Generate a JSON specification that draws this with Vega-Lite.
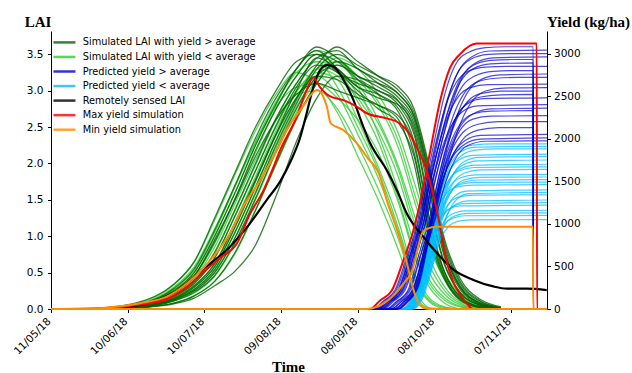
{
"$schema": "https://vega.github.io/schema/vega-lite/v6.json",
"width": 496, "height": 278,
"autosize": {"type": "none"},
"padding": {"left": 51, "top": 31, "right": 85, "bottom": 64},
"config": {
  "view": {"stroke": null},
  "font": "DejaVu Sans",
  "axis": {"grid": false, "domainColor": "black", "tickColor": "black", "labelColor": "black", "titleColor": "black", "labelFont": "DejaVu Sans", "labelFontSize": 10.5, "tickSize": 3.5, "domainWidth": 1, "tickWidth": 1, "titleFont": "Liberation Serif", "titleFontWeight": "bold", "titleFontSize": 15}
},
"datasets": {
"lightLAI": [
{"sim":"L1","day":20,"lai":0.01},{"sim":"L1","day":35,"lai":0.09},{"sim":"L1","day":48,"lai":0.33},{"sim":"L1","day":56,"lai":0.64},{"sim":"L1","day":64,"lai":1.22},{"sim":"L1","day":72,"lai":1.85},{"sim":"L1","day":80,"lai":2.45},{"sim":"L1","day":88,"lai":2.95},{"sim":"L1","day":96,"lai":3.25},{"sim":"L1","day":104,"lai":3.1},{"sim":"L1","day":112,"lai":2.7},{"sim":"L1","day":120,"lai":2.1},{"sim":"L1","day":128,"lai":1.5},{"sim":"L1","day":136,"lai":0.8},{"sim":"L1","day":142,"lai":0.2},{"sim":"L1","day":148,"lai":0},
{"sim":"L2","day":20,"lai":0.01},{"sim":"L2","day":35,"lai":0.07},{"sim":"L2","day":48,"lai":0.27},{"sim":"L2","day":56,"lai":0.53},{"sim":"L2","day":64,"lai":1.05},{"sim":"L2","day":72,"lai":1.68},{"sim":"L2","day":80,"lai":2.3},{"sim":"L2","day":88,"lai":2.85},{"sim":"L2","day":96,"lai":3.25},{"sim":"L2","day":104,"lai":3.4},{"sim":"L2","day":112,"lai":3.05},{"sim":"L2","day":120,"lai":2.5},{"sim":"L2","day":128,"lai":1.9},{"sim":"L2","day":136,"lai":1.1},{"sim":"L2","day":142,"lai":0.45},{"sim":"L2","day":148,"lai":0.12},{"sim":"L2","day":154,"lai":0.02},{"sim":"L2","day":160,"lai":0},
{"sim":"L3","day":20,"lai":0},{"sim":"L3","day":35,"lai":0.06},{"sim":"L3","day":48,"lai":0.22},{"sim":"L3","day":56,"lai":0.45},{"sim":"L3","day":64,"lai":0.9},{"sim":"L3","day":72,"lai":1.5},{"sim":"L3","day":80,"lai":2.15},{"sim":"L3","day":88,"lai":2.75},{"sim":"L3","day":96,"lai":3.2},{"sim":"L3","day":104,"lai":3.5},{"sim":"L3","day":112,"lai":3.3},{"sim":"L3","day":120,"lai":2.85},{"sim":"L3","day":128,"lai":2.3},{"sim":"L3","day":136,"lai":1.5},{"sim":"L3","day":142,"lai":0.8},{"sim":"L3","day":148,"lai":0.35},{"sim":"L3","day":154,"lai":0.12},{"sim":"L3","day":160,"lai":0.03},{"sim":"L3","day":168,"lai":0},
{"sim":"L4","day":20,"lai":0},{"sim":"L4","day":35,"lai":0.05},{"sim":"L4","day":48,"lai":0.18},{"sim":"L4","day":56,"lai":0.38},{"sim":"L4","day":64,"lai":0.76},{"sim":"L4","day":72,"lai":1.35},{"sim":"L4","day":80,"lai":1.98},{"sim":"L4","day":88,"lai":2.6},{"sim":"L4","day":96,"lai":3.1},{"sim":"L4","day":104,"lai":3.4},{"sim":"L4","day":112,"lai":3.3},{"sim":"L4","day":120,"lai":2.95},{"sim":"L4","day":128,"lai":2.55},{"sim":"L4","day":136,"lai":1.9},{"sim":"L4","day":142,"lai":1.2},{"sim":"L4","day":148,"lai":0.6},{"sim":"L4","day":154,"lai":0.25},{"sim":"L4","day":160,"lai":0.08},{"sim":"L4","day":168,"lai":0.01},{"sim":"L4","day":176,"lai":0},
{"sim":"L5","day":20,"lai":0},{"sim":"L5","day":35,"lai":0.04},{"sim":"L5","day":48,"lai":0.15},{"sim":"L5","day":56,"lai":0.32},{"sim":"L5","day":64,"lai":0.62},{"sim":"L5","day":72,"lai":1.2},{"sim":"L5","day":80,"lai":1.82},{"sim":"L5","day":88,"lai":2.45},{"sim":"L5","day":96,"lai":2.98},{"sim":"L5","day":104,"lai":3.3},{"sim":"L5","day":112,"lai":3.4},{"sim":"L5","day":120,"lai":3.15},{"sim":"L5","day":128,"lai":2.8},{"sim":"L5","day":136,"lai":2.2},{"sim":"L5","day":142,"lai":1.5},{"sim":"L5","day":148,"lai":0.85},{"sim":"L5","day":154,"lai":0.4},{"sim":"L5","day":160,"lai":0.15},{"sim":"L5","day":168,"lai":0.04},{"sim":"L5","day":176,"lai":0},
{"sim":"L6","day":20,"lai":0.01},{"sim":"L6","day":35,"lai":0.08},{"sim":"L6","day":48,"lai":0.3},{"sim":"L6","day":56,"lai":0.58},{"sim":"L6","day":64,"lai":1.1},{"sim":"L6","day":72,"lai":1.7},{"sim":"L6","day":80,"lai":2.3},{"sim":"L6","day":88,"lai":2.78},{"sim":"L6","day":96,"lai":3.05},{"sim":"L6","day":104,"lai":3.1},{"sim":"L6","day":112,"lai":2.9},{"sim":"L6","day":120,"lai":2.6},{"sim":"L6","day":128,"lai":2.15},{"sim":"L6","day":136,"lai":1.45},{"sim":"L6","day":142,"lai":0.75},{"sim":"L6","day":148,"lai":0.3},{"sim":"L6","day":154,"lai":0.08},{"sim":"L6","day":160,"lai":0},
{"sim":"L7","day":20,"lai":0},{"sim":"L7","day":35,"lai":0.03},{"sim":"L7","day":48,"lai":0.13},{"sim":"L7","day":56,"lai":0.27},{"sim":"L7","day":64,"lai":0.53},{"sim":"L7","day":72,"lai":1.05},{"sim":"L7","day":80,"lai":1.66},{"sim":"L7","day":88,"lai":2.3},{"sim":"L7","day":96,"lai":2.85},{"sim":"L7","day":104,"lai":3.25},{"sim":"L7","day":112,"lai":3.15},{"sim":"L7","day":120,"lai":2.6},{"sim":"L7","day":128,"lai":1.95},{"sim":"L7","day":136,"lai":1.2},{"sim":"L7","day":142,"lai":0.5},{"sim":"L7","day":148,"lai":0.15},{"sim":"L7","day":154,"lai":0.03},{"sim":"L7","day":160,"lai":0},
{"sim":"L8","day":20,"lai":0},{"sim":"L8","day":35,"lai":0.02},{"sim":"L8","day":48,"lai":0.11},{"sim":"L8","day":56,"lai":0.22},{"sim":"L8","day":64,"lai":0.45},{"sim":"L8","day":72,"lai":0.9},{"sim":"L8","day":80,"lai":1.5},{"sim":"L8","day":88,"lai":2.15},{"sim":"L8","day":96,"lai":2.7},{"sim":"L8","day":104,"lai":3.15},{"sim":"L8","day":112,"lai":3.35},{"sim":"L8","day":120,"lai":3.1},{"sim":"L8","day":128,"lai":2.6},{"sim":"L8","day":136,"lai":1.95},{"sim":"L8","day":142,"lai":1.3},{"sim":"L8","day":148,"lai":0.7},{"sim":"L8","day":154,"lai":0.3},{"sim":"L8","day":160,"lai":0.1},{"sim":"L8","day":168,"lai":0.02},{"sim":"L8","day":176,"lai":0},
{"sim":"L9","day":20,"lai":0},{"sim":"L9","day":35,"lai":0.06},{"sim":"L9","day":48,"lai":0.2},{"sim":"L9","day":56,"lai":0.42},{"sim":"L9","day":64,"lai":0.85},{"sim":"L9","day":72,"lai":1.45},{"sim":"L9","day":80,"lai":2.05},{"sim":"L9","day":88,"lai":2.6},{"sim":"L9","day":96,"lai":2.95},{"sim":"L9","day":104,"lai":3.0},{"sim":"L9","day":112,"lai":2.75},{"sim":"L9","day":120,"lai":2.25},{"sim":"L9","day":128,"lai":1.65},{"sim":"L9","day":136,"lai":0.95},{"sim":"L9","day":142,"lai":0.3},{"sim":"L9","day":148,"lai":0.02},{"sim":"L9","day":154,"lai":0},
{"sim":"L10","day":20,"lai":0},{"sim":"L10","day":35,"lai":0.02},{"sim":"L10","day":48,"lai":0.08},{"sim":"L10","day":56,"lai":0.18},{"sim":"L10","day":64,"lai":0.38},{"sim":"L10","day":72,"lai":0.76},{"sim":"L10","day":80,"lai":1.35},{"sim":"L10","day":88,"lai":1.98},{"sim":"L10","day":96,"lai":2.6},{"sim":"L10","day":104,"lai":3.1},{"sim":"L10","day":112,"lai":3.4},{"sim":"L10","day":120,"lai":3.05},{"sim":"L10","day":128,"lai":2.4},{"sim":"L10","day":136,"lai":1.6},{"sim":"L10","day":142,"lai":0.9},{"sim":"L10","day":148,"lai":0.4},{"sim":"L10","day":154,"lai":0.15},{"sim":"L10","day":160,"lai":0.04},{"sim":"L10","day":168,"lai":0},
{"sim":"L11","day":20,"lai":0.01},{"sim":"L11","day":35,"lai":0.07},{"sim":"L11","day":48,"lai":0.25},{"sim":"L11","day":56,"lai":0.5},{"sim":"L11","day":64,"lai":1.0},{"sim":"L11","day":72,"lai":1.6},{"sim":"L11","day":80,"lai":2.25},{"sim":"L11","day":88,"lai":2.8},{"sim":"L11","day":96,"lai":3.3},{"sim":"L11","day":104,"lai":3.55},{"sim":"L11","day":112,"lai":3.45},{"sim":"L11","day":120,"lai":3.2},{"sim":"L11","day":128,"lai":2.85},{"sim":"L11","day":136,"lai":2.3},{"sim":"L11","day":142,"lai":1.6},{"sim":"L11","day":148,"lai":0.95},{"sim":"L11","day":154,"lai":0.45},{"sim":"L11","day":160,"lai":0.18},{"sim":"L11","day":168,"lai":0.05},{"sim":"L11","day":176,"lai":0},
{"sim":"L12","day":20,"lai":0},{"sim":"L12","day":35,"lai":0.04},{"sim":"L12","day":48,"lai":0.14},{"sim":"L12","day":56,"lai":0.3},{"sim":"L12","day":64,"lai":0.58},{"sim":"L12","day":72,"lai":1.12},{"sim":"L12","day":80,"lai":1.75},{"sim":"L12","day":88,"lai":2.38},{"sim":"L12","day":96,"lai":2.9},{"sim":"L12","day":104,"lai":3.3},{"sim":"L12","day":112,"lai":3.2},{"sim":"L12","day":120,"lai":2.9},{"sim":"L12","day":128,"lai":2.45},{"sim":"L12","day":136,"lai":1.8},{"sim":"L12","day":142,"lai":1.1},{"sim":"L12","day":148,"lai":0.5},{"sim":"L12","day":154,"lai":0.2},{"sim":"L12","day":160,"lai":0.06},{"sim":"L12","day":168,"lai":0},
{"sim":"L13","day":20,"lai":0},{"sim":"L13","day":35,"lai":0.05},{"sim":"L13","day":48,"lai":0.17},{"sim":"L13","day":56,"lai":0.35},{"sim":"L13","day":64,"lai":0.7},{"sim":"L13","day":72,"lai":1.28},{"sim":"L13","day":80,"lai":1.9},{"sim":"L13","day":88,"lai":2.5},{"sim":"L13","day":96,"lai":3.0},{"sim":"L13","day":104,"lai":3.2},{"sim":"L13","day":112,"lai":2.95},{"sim":"L13","day":120,"lai":2.4},{"sim":"L13","day":128,"lai":1.8},{"sim":"L13","day":136,"lai":1.05},{"sim":"L13","day":142,"lai":0.4},{"sim":"L13","day":148,"lai":0.1},{"sim":"L13","day":154,"lai":0},
{"sim":"L14","day":20,"lai":0},{"sim":"L14","day":35,"lai":0.03},{"sim":"L14","day":48,"lai":0.12},{"sim":"L14","day":56,"lai":0.25},{"sim":"L14","day":64,"lai":0.5},{"sim":"L14","day":72,"lai":0.98},{"sim":"L14","day":80,"lai":1.58},{"sim":"L14","day":88,"lai":2.22},{"sim":"L14","day":96,"lai":2.78},{"sim":"L14","day":104,"lai":3.2},{"sim":"L14","day":112,"lai":3.45},{"sim":"L14","day":120,"lai":3.3},{"sim":"L14","day":128,"lai":2.95},{"sim":"L14","day":136,"lai":2.4},{"sim":"L14","day":142,"lai":1.75},{"sim":"L14","day":148,"lai":1.05},{"sim":"L14","day":154,"lai":0.5},{"sim":"L14","day":160,"lai":0.2},{"sim":"L14","day":168,"lai":0.06},{"sim":"L14","day":176,"lai":0.01}
],
"darkLAI": [
{"sim":"D1","day":20,"lai":0.01},{"sim":"D1","day":35,"lai":0.1},{"sim":"D1","day":48,"lai":0.34},{"sim":"D1","day":56,"lai":0.65},{"sim":"D1","day":64,"lai":1.25},{"sim":"D1","day":72,"lai":1.88},{"sim":"D1","day":80,"lai":2.5},{"sim":"D1","day":88,"lai":3.0},{"sim":"D1","day":96,"lai":3.4},{"sim":"D1","day":104,"lai":3.5},{"sim":"D1","day":112,"lai":3.25},{"sim":"D1","day":120,"lai":3.1},{"sim":"D1","day":128,"lai":3.0},{"sim":"D1","day":136,"lai":2.8},{"sim":"D1","day":142,"lai":2.4},{"sim":"D1","day":148,"lai":1.4},{"sim":"D1","day":154,"lai":0.6},{"sim":"D1","day":160,"lai":0.22},{"sim":"D1","day":168,"lai":0.05},{"sim":"D1","day":176,"lai":0},
{"sim":"D2","day":20,"lai":0.01},{"sim":"D2","day":35,"lai":0.07},{"sim":"D2","day":48,"lai":0.28},{"sim":"D2","day":56,"lai":0.55},{"sim":"D2","day":64,"lai":1.08},{"sim":"D2","day":72,"lai":1.7},{"sim":"D2","day":80,"lai":2.35},{"sim":"D2","day":88,"lai":2.9},{"sim":"D2","day":96,"lai":3.3},{"sim":"D2","day":104,"lai":3.6},{"sim":"D2","day":112,"lai":3.45},{"sim":"D2","day":120,"lai":3.2},{"sim":"D2","day":128,"lai":3.1},{"sim":"D2","day":136,"lai":2.95},{"sim":"D2","day":142,"lai":2.65},{"sim":"D2","day":148,"lai":1.85},{"sim":"D2","day":154,"lai":0.85},{"sim":"D2","day":160,"lai":0.35},{"sim":"D2","day":168,"lai":0.1},{"sim":"D2","day":176,"lai":0.02},
{"sim":"D3","day":20,"lai":0},{"sim":"D3","day":35,"lai":0.06},{"sim":"D3","day":48,"lai":0.22},{"sim":"D3","day":56,"lai":0.46},{"sim":"D3","day":64,"lai":0.92},{"sim":"D3","day":72,"lai":1.52},{"sim":"D3","day":80,"lai":2.18},{"sim":"D3","day":88,"lai":2.75},{"sim":"D3","day":96,"lai":3.2},{"sim":"D3","day":104,"lai":3.5},{"sim":"D3","day":112,"lai":3.4},{"sim":"D3","day":120,"lai":3.15},{"sim":"D3","day":128,"lai":2.95},{"sim":"D3","day":136,"lai":2.7},{"sim":"D3","day":142,"lai":2.15},{"sim":"D3","day":148,"lai":1.05},{"sim":"D3","day":154,"lai":0.42},{"sim":"D3","day":160,"lai":0.13},{"sim":"D3","day":168,"lai":0.02},{"sim":"D3","day":176,"lai":0},
{"sim":"D4","day":20,"lai":0},{"sim":"D4","day":35,"lai":0.05},{"sim":"D4","day":48,"lai":0.18},{"sim":"D4","day":56,"lai":0.38},{"sim":"D4","day":64,"lai":0.78},{"sim":"D4","day":72,"lai":1.37},{"sim":"D4","day":80,"lai":2.0},{"sim":"D4","day":88,"lai":2.62},{"sim":"D4","day":96,"lai":3.1},{"sim":"D4","day":104,"lai":3.45},{"sim":"D4","day":112,"lai":3.55},{"sim":"D4","day":120,"lai":3.3},{"sim":"D4","day":128,"lai":3.15},{"sim":"D4","day":136,"lai":2.95},{"sim":"D4","day":142,"lai":2.65},{"sim":"D4","day":148,"lai":1.8},{"sim":"D4","day":154,"lai":0.8},{"sim":"D4","day":160,"lai":0.32},{"sim":"D4","day":168,"lai":0.08},{"sim":"D4","day":176,"lai":0.01},
{"sim":"D5","day":20,"lai":0},{"sim":"D5","day":35,"lai":0.04},{"sim":"D5","day":48,"lai":0.15},{"sim":"D5","day":56,"lai":0.32},{"sim":"D5","day":64,"lai":0.62},{"sim":"D5","day":72,"lai":1.18},{"sim":"D5","day":80,"lai":1.78},{"sim":"D5","day":88,"lai":2.4},{"sim":"D5","day":96,"lai":2.9},{"sim":"D5","day":104,"lai":3.2},{"sim":"D5","day":112,"lai":3.15},{"sim":"D5","day":120,"lai":2.95},{"sim":"D5","day":128,"lai":2.8},{"sim":"D5","day":136,"lai":2.6},{"sim":"D5","day":142,"lai":2.0},{"sim":"D5","day":148,"lai":0.95},{"sim":"D5","day":154,"lai":0.4},{"sim":"D5","day":160,"lai":0.12},{"sim":"D5","day":168,"lai":0.02},{"sim":"D5","day":176,"lai":0},
{"sim":"D6","day":20,"lai":0},{"sim":"D6","day":35,"lai":0.03},{"sim":"D6","day":48,"lai":0.13},{"sim":"D6","day":56,"lai":0.27},{"sim":"D6","day":64,"lai":0.54},{"sim":"D6","day":72,"lai":1.06},{"sim":"D6","day":80,"lai":1.68},{"sim":"D6","day":88,"lai":2.32},{"sim":"D6","day":96,"lai":2.88},{"sim":"D6","day":104,"lai":3.35},{"sim":"D6","day":112,"lai":3.6},{"sim":"D6","day":120,"lai":3.4},{"sim":"D6","day":128,"lai":3.2},{"sim":"D6","day":136,"lai":3.0},{"sim":"D6","day":142,"lai":2.7},{"sim":"D6","day":148,"lai":1.9},{"sim":"D6","day":154,"lai":0.9},{"sim":"D6","day":160,"lai":0.38},{"sim":"D6","day":168,"lai":0.11},{"sim":"D6","day":176,"lai":0.02},
{"sim":"D7","day":20,"lai":0},{"sim":"D7","day":35,"lai":0.02},{"sim":"D7","day":48,"lai":0.11},{"sim":"D7","day":56,"lai":0.23},{"sim":"D7","day":64,"lai":0.46},{"sim":"D7","day":72,"lai":0.92},{"sim":"D7","day":80,"lai":1.52},{"sim":"D7","day":88,"lai":2.17},{"sim":"D7","day":96,"lai":2.75},{"sim":"D7","day":104,"lai":3.2},{"sim":"D7","day":112,"lai":3.35},{"sim":"D7","day":120,"lai":3.2},{"sim":"D7","day":128,"lai":3.05},{"sim":"D7","day":136,"lai":2.85},{"sim":"D7","day":142,"lai":2.45},{"sim":"D7","day":148,"lai":1.45},{"sim":"D7","day":154,"lai":0.62},{"sim":"D7","day":160,"lai":0.23},{"sim":"D7","day":168,"lai":0.05},{"sim":"D7","day":176,"lai":0},
{"sim":"D8","day":20,"lai":0},{"sim":"D8","day":35,"lai":0.02},{"sim":"D8","day":48,"lai":0.08},{"sim":"D8","day":56,"lai":0.18},{"sim":"D8","day":64,"lai":0.38},{"sim":"D8","day":72,"lai":0.78},{"sim":"D8","day":80,"lai":1.36},{"sim":"D8","day":88,"lai":2.0},{"sim":"D8","day":96,"lai":2.62},{"sim":"D8","day":104,"lai":3.1},{"sim":"D8","day":112,"lai":3.4},{"sim":"D8","day":120,"lai":3.3},{"sim":"D8","day":128,"lai":3.1},{"sim":"D8","day":136,"lai":2.9},{"sim":"D8","day":142,"lai":2.6},{"sim":"D8","day":148,"lai":1.75},{"sim":"D8","day":154,"lai":0.78},{"sim":"D8","day":160,"lai":0.3},{"sim":"D8","day":168,"lai":0.08},{"sim":"D8","day":176,"lai":0.01},
{"sim":"D9","day":20,"lai":0},{"sim":"D9","day":35,"lai":0.05},{"sim":"D9","day":48,"lai":0.23},{"sim":"D9","day":56,"lai":0.45},{"sim":"D9","day":64,"lai":0.95},{"sim":"D9","day":72,"lai":1.5},{"sim":"D9","day":80,"lai":2.1},{"sim":"D9","day":88,"lai":2.6},{"sim":"D9","day":96,"lai":2.95},{"sim":"D9","day":104,"lai":3.1},{"sim":"D9","day":112,"lai":3.0},{"sim":"D9","day":120,"lai":2.9},{"sim":"D9","day":128,"lai":2.8},{"sim":"D9","day":136,"lai":2.65},{"sim":"D9","day":142,"lai":2.25},{"sim":"D9","day":148,"lai":1.2},{"sim":"D9","day":154,"lai":0.5},{"sim":"D9","day":160,"lai":0.16},{"sim":"D9","day":168,"lai":0.03},{"sim":"D9","day":176,"lai":0},
{"sim":"D10","day":20,"lai":0},{"sim":"D10","day":35,"lai":0.04},{"sim":"D10","day":48,"lai":0.14},{"sim":"D10","day":56,"lai":0.3},{"sim":"D10","day":64,"lai":0.58},{"sim":"D10","day":72,"lai":1.13},{"sim":"D10","day":80,"lai":1.76},{"sim":"D10","day":88,"lai":2.4},{"sim":"D10","day":96,"lai":3.0},{"sim":"D10","day":104,"lai":3.45},{"sim":"D10","day":112,"lai":3.3},{"sim":"D10","day":120,"lai":3.05},{"sim":"D10","day":128,"lai":2.9},{"sim":"D10","day":136,"lai":2.8},{"sim":"D10","day":142,"lai":2.5},{"sim":"D10","day":148,"lai":1.6},{"sim":"D10","day":154,"lai":0.7},{"sim":"D10","day":160,"lai":0.27},{"sim":"D10","day":168,"lai":0.06},{"sim":"D10","day":176,"lai":0},
{"sim":"D11","day":20,"lai":0.01},{"sim":"D11","day":35,"lai":0.07},{"sim":"D11","day":48,"lai":0.25},{"sim":"D11","day":56,"lai":0.5},{"sim":"D11","day":64,"lai":1.0},{"sim":"D11","day":72,"lai":1.6},{"sim":"D11","day":80,"lai":2.25},{"sim":"D11","day":88,"lai":2.82},{"sim":"D11","day":96,"lai":3.3},{"sim":"D11","day":104,"lai":3.55},{"sim":"D11","day":112,"lai":3.3},{"sim":"D11","day":120,"lai":3.05},{"sim":"D11","day":128,"lai":2.95},{"sim":"D11","day":136,"lai":2.75},{"sim":"D11","day":142,"lai":2.3},{"sim":"D11","day":148,"lai":1.25},{"sim":"D11","day":154,"lai":0.5},{"sim":"D11","day":160,"lai":0.17},{"sim":"D11","day":168,"lai":0.03},{"sim":"D11","day":176,"lai":0},
{"sim":"D12","day":20,"lai":0},{"sim":"D12","day":35,"lai":0.02},{"sim":"D12","day":48,"lai":0.07},{"sim":"D12","day":56,"lai":0.15},{"sim":"D12","day":64,"lai":0.32},{"sim":"D12","day":72,"lai":0.52},{"sim":"D12","day":80,"lai":0.88},{"sim":"D12","day":88,"lai":1.55},{"sim":"D12","day":96,"lai":2.3},{"sim":"D12","day":104,"lai":2.9},{"sim":"D12","day":112,"lai":3.2},{"sim":"D12","day":120,"lai":3.15},{"sim":"D12","day":128,"lai":3.0},{"sim":"D12","day":136,"lai":2.85},{"sim":"D12","day":142,"lai":2.55},{"sim":"D12","day":148,"lai":1.7},{"sim":"D12","day":154,"lai":0.75},{"sim":"D12","day":160,"lai":0.3},{"sim":"D12","day":168,"lai":0.07},{"sim":"D12","day":176,"lai":0.01},
{"sim":"D13","day":20,"lai":0},{"sim":"D13","day":35,"lai":0.05},{"sim":"D13","day":48,"lai":0.17},{"sim":"D13","day":56,"lai":0.35},{"sim":"D13","day":64,"lai":0.7},{"sim":"D13","day":72,"lai":1.28},{"sim":"D13","day":80,"lai":1.9},{"sim":"D13","day":88,"lai":2.52},{"sim":"D13","day":96,"lai":3.05},{"sim":"D13","day":104,"lai":3.35},{"sim":"D13","day":112,"lai":3.25},{"sim":"D13","day":120,"lai":3.0},{"sim":"D13","day":128,"lai":2.75},{"sim":"D13","day":136,"lai":2.55},{"sim":"D13","day":142,"lai":2.1},{"sim":"D13","day":148,"lai":1.1},{"sim":"D13","day":154,"lai":0.45},{"sim":"D13","day":160,"lai":0.14},{"sim":"D13","day":168,"lai":0.03},{"sim":"D13","day":176,"lai":0},
{"sim":"D14","day":20,"lai":0},{"sim":"D14","day":35,"lai":0.03},{"sim":"D14","day":48,"lai":0.12},{"sim":"D14","day":56,"lai":0.25},{"sim":"D14","day":64,"lai":0.5},{"sim":"D14","day":72,"lai":0.98},{"sim":"D14","day":80,"lai":1.6},{"sim":"D14","day":88,"lai":2.25},{"sim":"D14","day":96,"lai":2.82},{"sim":"D14","day":104,"lai":3.3},{"sim":"D14","day":112,"lai":3.5},{"sim":"D14","day":120,"lai":3.35},{"sim":"D14","day":128,"lai":3.2},{"sim":"D14","day":136,"lai":3.05},{"sim":"D14","day":142,"lai":2.75},{"sim":"D14","day":148,"lai":1.95},{"sim":"D14","day":154,"lai":0.95},{"sim":"D14","day":160,"lai":0.42},{"sim":"D14","day":168,"lai":0.13},{"sim":"D14","day":176,"lai":0.03}
],
"cyanYield": [
{"sim":"C1","day":0,"yield":0},{"sim":"C1","day":137,"yield":0},{"sim":"C1","day":141,"yield":120},{"sim":"C1","day":144.5,"yield":420},{"sim":"C1","day":148,"yield":900},{"sim":"C1","day":151.5,"yield":1380},{"sim":"C1","day":155,"yield":1700},{"sim":"C1","day":159,"yield":1860},{"sim":"C1","day":165,"yield":1925},{"sim":"C1","day":173,"yield":1940},{"sim":"C1","day":194,"yield":1940},
{"sim":"C2","day":0,"yield":0},{"sim":"C2","day":138.5,"yield":0},{"sim":"C2","day":142.5,"yield":120},{"sim":"C2","day":146,"yield":420},{"sim":"C2","day":149.5,"yield":900},{"sim":"C2","day":153,"yield":1360},{"sim":"C2","day":156.5,"yield":1650},{"sim":"C2","day":160.5,"yield":1800},{"sim":"C2","day":166,"yield":1865},{"sim":"C2","day":174,"yield":1880},{"sim":"C2","day":194,"yield":1880},
{"sim":"C3","day":0,"yield":0},{"sim":"C3","day":137.5,"yield":0},{"sim":"C3","day":141.5,"yield":120},{"sim":"C3","day":145,"yield":430},{"sim":"C3","day":148.5,"yield":900},{"sim":"C3","day":152,"yield":1340},{"sim":"C3","day":155.5,"yield":1610},{"sim":"C3","day":159.5,"yield":1750},{"sim":"C3","day":165,"yield":1805},{"sim":"C3","day":194,"yield":1820},
{"sim":"C4","day":0,"yield":0},{"sim":"C4","day":139,"yield":0},{"sim":"C4","day":143,"yield":130},{"sim":"C4","day":146.5,"yield":450},{"sim":"C4","day":150,"yield":920},{"sim":"C4","day":153.5,"yield":1330},{"sim":"C4","day":157,"yield":1570},{"sim":"C4","day":161,"yield":1690},{"sim":"C4","day":167,"yield":1740},{"sim":"C4","day":194,"yield":1750},
{"sim":"C5","day":0,"yield":0},{"sim":"C5","day":138,"yield":0},{"sim":"C5","day":142,"yield":125},{"sim":"C5","day":145.5,"yield":440},{"sim":"C5","day":149,"yield":900},{"sim":"C5","day":152.5,"yield":1290},{"sim":"C5","day":156,"yield":1530},{"sim":"C5","day":160,"yield":1645},{"sim":"C5","day":166,"yield":1690},{"sim":"C5","day":194,"yield":1700},
{"sim":"C6","day":0,"yield":0},{"sim":"C6","day":140,"yield":0},{"sim":"C6","day":144,"yield":130},{"sim":"C6","day":147.5,"yield":460},{"sim":"C6","day":151,"yield":930},{"sim":"C6","day":154.5,"yield":1300},{"sim":"C6","day":158,"yield":1510},{"sim":"C6","day":162,"yield":1600},{"sim":"C6","day":168,"yield":1635},{"sim":"C6","day":194,"yield":1640},
{"sim":"C7","day":0,"yield":0},{"sim":"C7","day":138.5,"yield":0},{"sim":"C7","day":142.5,"yield":125},{"sim":"C7","day":146,"yield":440},{"sim":"C7","day":149.5,"yield":880},{"sim":"C7","day":153,"yield":1250},{"sim":"C7","day":156.5,"yield":1460},{"sim":"C7","day":160.5,"yield":1545},{"sim":"C7","day":166,"yield":1575},{"sim":"C7","day":194,"yield":1580},
{"sim":"C8","day":0,"yield":0},{"sim":"C8","day":139.5,"yield":0},{"sim":"C8","day":143.5,"yield":130},{"sim":"C8","day":147,"yield":450},{"sim":"C8","day":150.5,"yield":900},{"sim":"C8","day":154,"yield":1240},{"sim":"C8","day":157.5,"yield":1420},{"sim":"C8","day":161.5,"yield":1490},{"sim":"C8","day":167,"yield":1515},{"sim":"C8","day":194,"yield":1520},
{"sim":"C9","day":0,"yield":0},{"sim":"C9","day":137,"yield":0},{"sim":"C9","day":141,"yield":120},{"sim":"C9","day":144.5,"yield":420},{"sim":"C9","day":148,"yield":860},{"sim":"C9","day":151.5,"yield":1200},{"sim":"C9","day":155,"yield":1370},{"sim":"C9","day":159,"yield":1435},{"sim":"C9","day":165,"yield":1455},{"sim":"C9","day":194,"yield":1460},
{"sim":"C10","day":0,"yield":0},{"sim":"C10","day":140.5,"yield":0},{"sim":"C10","day":144.5,"yield":130},{"sim":"C10","day":148,"yield":460},{"sim":"C10","day":151.5,"yield":900},{"sim":"C10","day":155,"yield":1200},{"sim":"C10","day":158.5,"yield":1340},{"sim":"C10","day":162.5,"yield":1385},{"sim":"C10","day":194,"yield":1400},
{"sim":"C11","day":0,"yield":0},{"sim":"C11","day":139,"yield":0},{"sim":"C11","day":143,"yield":125},{"sim":"C11","day":146.5,"yield":440},{"sim":"C11","day":150,"yield":860},{"sim":"C11","day":153.5,"yield":1140},{"sim":"C11","day":157,"yield":1280},{"sim":"C11","day":161,"yield":1325},{"sim":"C11","day":167,"yield":1338},{"sim":"C11","day":194,"yield":1340},
{"sim":"C12","day":0,"yield":0},{"sim":"C12","day":141,"yield":0},{"sim":"C12","day":145,"yield":135},{"sim":"C12","day":148.5,"yield":470},{"sim":"C12","day":152,"yield":890},{"sim":"C12","day":155.5,"yield":1140},{"sim":"C12","day":159,"yield":1240},{"sim":"C12","day":163,"yield":1270},{"sim":"C12","day":194,"yield":1280},
{"sim":"C13","day":0,"yield":0},{"sim":"C13","day":138,"yield":0},{"sim":"C13","day":142,"yield":120},{"sim":"C13","day":145.5,"yield":420},{"sim":"C13","day":149,"yield":820},{"sim":"C13","day":152.5,"yield":1080},{"sim":"C13","day":156,"yield":1180},{"sim":"C13","day":160,"yield":1210},{"sim":"C13","day":194,"yield":1220},
{"sim":"C14","day":0,"yield":0},{"sim":"C14","day":140,"yield":0},{"sim":"C14","day":144,"yield":130},{"sim":"C14","day":147.5,"yield":450},{"sim":"C14","day":151,"yield":840},{"sim":"C14","day":154.5,"yield":1060},{"sim":"C14","day":158,"yield":1130},{"sim":"C14","day":162,"yield":1152},{"sim":"C14","day":194,"yield":1160},
{"sim":"C15","day":0,"yield":0},{"sim":"C15","day":139.5,"yield":0},{"sim":"C15","day":143.5,"yield":125},{"sim":"C15","day":147,"yield":440},{"sim":"C15","day":150.5,"yield":800},{"sim":"C15","day":154,"yield":1000},{"sim":"C15","day":157.5,"yield":1070},{"sim":"C15","day":162,"yield":1095},{"sim":"C15","day":194,"yield":1100},
{"sim":"C16","day":0,"yield":0},{"sim":"C16","day":141,"yield":0},{"sim":"C16","day":145,"yield":130},{"sim":"C16","day":148.5,"yield":450},{"sim":"C16","day":152,"yield":800},{"sim":"C16","day":155.5,"yield":970},{"sim":"C16","day":159,"yield":1030},{"sim":"C16","day":164,"yield":1047},{"sim":"C16","day":194,"yield":1050},
{"sim":"C17","day":0,"yield":0},{"sim":"C17","day":138,"yield":0},{"sim":"C17","day":142,"yield":120},{"sim":"C17","day":145.5,"yield":420},{"sim":"C17","day":149,"yield":900},{"sim":"C17","day":152.5,"yield":1370},{"sim":"C17","day":156,"yield":1680},{"sim":"C17","day":160,"yield":1840},{"sim":"C17","day":166,"yield":1900},{"sim":"C17","day":194,"yield":1910},
{"sim":"C18","day":0,"yield":0},{"sim":"C18","day":139.5,"yield":0},{"sim":"C18","day":143.5,"yield":125},{"sim":"C18","day":147,"yield":440},{"sim":"C18","day":150.5,"yield":910},{"sim":"C18","day":154,"yield":1330},{"sim":"C18","day":157.5,"yield":1590},{"sim":"C18","day":161.5,"yield":1730},{"sim":"C18","day":167.5,"yield":1780},{"sim":"C18","day":194,"yield":1790},
{"sim":"C19","day":0,"yield":0},{"sim":"C19","day":137.5,"yield":0},{"sim":"C19","day":141.5,"yield":120},{"sim":"C19","day":145,"yield":430},{"sim":"C19","day":148.5,"yield":890},{"sim":"C19","day":152,"yield":1280},{"sim":"C19","day":155.5,"yield":1510},{"sim":"C19","day":159.5,"yield":1620},{"sim":"C19","day":165.5,"yield":1662},{"sim":"C19","day":194,"yield":1670},
{"sim":"C20","day":0,"yield":0},{"sim":"C20","day":140,"yield":0},{"sim":"C20","day":144,"yield":130},{"sim":"C20","day":147.5,"yield":450},{"sim":"C20","day":151,"yield":900},{"sim":"C20","day":154.5,"yield":1250},{"sim":"C20","day":158,"yield":1440},{"sim":"C20","day":162,"yield":1520},{"sim":"C20","day":168,"yield":1546},{"sim":"C20","day":194,"yield":1550},
{"sim":"C21","day":0,"yield":0},{"sim":"C21","day":138.5,"yield":0},{"sim":"C21","day":142.5,"yield":125},{"sim":"C21","day":146,"yield":440},{"sim":"C21","day":149.5,"yield":870},{"sim":"C21","day":153,"yield":1200},{"sim":"C21","day":156.5,"yield":1390},{"sim":"C21","day":160.5,"yield":1465},{"sim":"C21","day":166,"yield":1486},{"sim":"C21","day":194,"yield":1490},
{"sim":"C22","day":0,"yield":0},{"sim":"C22","day":141.5,"yield":0},{"sim":"C22","day":145.5,"yield":135},{"sim":"C22","day":149,"yield":470},{"sim":"C22","day":152.5,"yield":880},{"sim":"C22","day":156,"yield":1170},{"sim":"C22","day":159.5,"yield":1310},{"sim":"C22","day":163.5,"yield":1355},{"sim":"C22","day":194,"yield":1370},
{"sim":"C23","day":0,"yield":0},{"sim":"C23","day":139,"yield":0},{"sim":"C23","day":143,"yield":125},{"sim":"C23","day":146.5,"yield":440},{"sim":"C23","day":150,"yield":840},{"sim":"C23","day":153.5,"yield":1100},{"sim":"C23","day":157,"yield":1200},{"sim":"C23","day":161,"yield":1238},{"sim":"C23","day":194,"yield":1250},
{"sim":"C24","day":0,"yield":0},{"sim":"C24","day":140.5,"yield":0},{"sim":"C24","day":144.5,"yield":130},{"sim":"C24","day":148,"yield":450},{"sim":"C24","day":151.5,"yield":820},{"sim":"C24","day":155,"yield":1030},{"sim":"C24","day":158.5,"yield":1100},{"sim":"C24","day":163,"yield":1124},{"sim":"C24","day":194,"yield":1130}
],
"blueYield": [
{"sim":"B1","day":0,"yield":0},{"sim":"B1","day":126,"yield":0},{"sim":"B1","day":130,"yield":95},{"sim":"B1","day":134.5,"yield":220},{"sim":"B1","day":139,"yield":600},{"sim":"B1","day":143,"yield":980},{"sim":"B1","day":146,"yield":1400},{"sim":"B1","day":150,"yield":1980},{"sim":"B1","day":154,"yield":2520},{"sim":"B1","day":158,"yield":2860},{"sim":"B1","day":163,"yield":3010},{"sim":"B1","day":170,"yield":3070},{"sim":"B1","day":178,"yield":3080},{"sim":"B1","day":188.6,"yield":3080},{"sim":"B1","day":188.7,"yield":0},{"sim":"B1","day":194,"yield":0},
{"sim":"B2","day":0,"yield":0},{"sim":"B2","day":127,"yield":0},{"sim":"B2","day":131,"yield":90},{"sim":"B2","day":135.5,"yield":215},{"sim":"B2","day":140,"yield":600},{"sim":"B2","day":144,"yield":1000},{"sim":"B2","day":147,"yield":1420},{"sim":"B2","day":151,"yield":1980},{"sim":"B2","day":155,"yield":2460},{"sim":"B2","day":159,"yield":2770},{"sim":"B2","day":164,"yield":2930},{"sim":"B2","day":171,"yield":2990},{"sim":"B2","day":180,"yield":3000},{"sim":"B2","day":194,"yield":3000},
{"sim":"B3","day":0,"yield":0},{"sim":"B3","day":128,"yield":0},{"sim":"B3","day":132,"yield":90},{"sim":"B3","day":136.5,"yield":215},{"sim":"B3","day":141,"yield":620},{"sim":"B3","day":145,"yield":1020},{"sim":"B3","day":148,"yield":1450},{"sim":"B3","day":152,"yield":1970},{"sim":"B3","day":156,"yield":2400},{"sim":"B3","day":160,"yield":2700},{"sim":"B3","day":165,"yield":2860},{"sim":"B3","day":172,"yield":2920},{"sim":"B3","day":180,"yield":2930},{"sim":"B3","day":188.6,"yield":2930},{"sim":"B3","day":188.7,"yield":0},{"sim":"B3","day":194,"yield":0},
{"sim":"B4","day":0,"yield":0},{"sim":"B4","day":126.5,"yield":0},{"sim":"B4","day":130.5,"yield":95},{"sim":"B4","day":135,"yield":220},{"sim":"B4","day":139.5,"yield":600},{"sim":"B4","day":143.5,"yield":990},{"sim":"B4","day":146.5,"yield":1400},{"sim":"B4","day":150.5,"yield":1950},{"sim":"B4","day":154.5,"yield":2400},{"sim":"B4","day":158.5,"yield":2660},{"sim":"B4","day":163,"yield":2790},{"sim":"B4","day":170,"yield":2840},{"sim":"B4","day":178,"yield":2850},{"sim":"B4","day":194,"yield":2850},
{"sim":"B5","day":0,"yield":0},{"sim":"B5","day":129,"yield":0},{"sim":"B5","day":133,"yield":90},{"sim":"B5","day":137.5,"yield":220},{"sim":"B5","day":142,"yield":640},{"sim":"B5","day":146,"yield":1050},{"sim":"B5","day":149,"yield":1480},{"sim":"B5","day":153,"yield":1980},{"sim":"B5","day":157,"yield":2380},{"sim":"B5","day":161,"yield":2620},{"sim":"B5","day":166,"yield":2740},{"sim":"B5","day":173,"yield":2790},{"sim":"B5","day":181,"yield":2800},{"sim":"B5","day":188.6,"yield":2800},{"sim":"B5","day":188.7,"yield":0},{"sim":"B5","day":194,"yield":0},
{"sim":"B6","day":0,"yield":0},{"sim":"B6","day":130,"yield":0},{"sim":"B6","day":134,"yield":90},{"sim":"B6","day":138.5,"yield":220},{"sim":"B6","day":143,"yield":650},{"sim":"B6","day":147,"yield":1060},{"sim":"B6","day":150,"yield":1470},{"sim":"B6","day":154,"yield":1950},{"sim":"B6","day":158,"yield":2320},{"sim":"B6","day":162,"yield":2550},{"sim":"B6","day":167,"yield":2670},{"sim":"B6","day":174,"yield":2710},{"sim":"B6","day":182,"yield":2720},{"sim":"B6","day":194,"yield":2720},
{"sim":"B7","day":0,"yield":0},{"sim":"B7","day":127.5,"yield":0},{"sim":"B7","day":131.5,"yield":90},{"sim":"B7","day":136,"yield":220},{"sim":"B7","day":140.5,"yield":620},{"sim":"B7","day":144.5,"yield":1000},{"sim":"B7","day":147.5,"yield":1420},{"sim":"B7","day":151.5,"yield":1900},{"sim":"B7","day":155.5,"yield":2280},{"sim":"B7","day":159.5,"yield":2500},{"sim":"B7","day":164,"yield":2600},{"sim":"B7","day":171,"yield":2635},{"sim":"B7","day":194,"yield":2640},
{"sim":"B8","day":0,"yield":0},{"sim":"B8","day":131,"yield":0},{"sim":"B8","day":135,"yield":85},{"sim":"B8","day":139.5,"yield":215},{"sim":"B8","day":144,"yield":650},{"sim":"B8","day":148,"yield":1060},{"sim":"B8","day":151,"yield":1470},{"sim":"B8","day":155,"yield":1920},{"sim":"B8","day":159,"yield":2250},{"sim":"B8","day":163,"yield":2440},{"sim":"B8","day":168,"yield":2530},{"sim":"B8","day":176,"yield":2560},{"sim":"B8","day":188.6,"yield":2560},{"sim":"B8","day":188.7,"yield":0},{"sim":"B8","day":194,"yield":0},
{"sim":"B9","day":0,"yield":0},{"sim":"B9","day":134.5,"yield":0},{"sim":"B9","day":138.5,"yield":90},{"sim":"B9","day":142.5,"yield":260},{"sim":"B9","day":146,"yield":700},{"sim":"B9","day":149,"yield":1150},{"sim":"B9","day":152,"yield":1600},{"sim":"B9","day":155.5,"yield":2000},{"sim":"B9","day":159,"yield":2280},{"sim":"B9","day":163,"yield":2410},{"sim":"B9","day":169,"yield":2470},{"sim":"B9","day":194,"yield":2480},
{"sim":"B10","day":0,"yield":0},{"sim":"B10","day":128.5,"yield":0},{"sim":"B10","day":132.5,"yield":90},{"sim":"B10","day":137,"yield":220},{"sim":"B10","day":141.5,"yield":630},{"sim":"B10","day":145.5,"yield":1020},{"sim":"B10","day":148.5,"yield":1430},{"sim":"B10","day":152.5,"yield":1850},{"sim":"B10","day":156.5,"yield":2150},{"sim":"B10","day":161,"yield":2320},{"sim":"B10","day":167,"yield":2385},{"sim":"B10","day":194,"yield":2400},
{"sim":"B11","day":0,"yield":0},{"sim":"B11","day":135,"yield":0},{"sim":"B11","day":139,"yield":90},{"sim":"B11","day":143,"yield":270},{"sim":"B11","day":146.5,"yield":720},{"sim":"B11","day":149.5,"yield":1170},{"sim":"B11","day":152.5,"yield":1580},{"sim":"B11","day":156,"yield":1930},{"sim":"B11","day":160,"yield":2170},{"sim":"B11","day":165,"yield":2290},{"sim":"B11","day":172,"yield":2325},{"sim":"B11","day":188.6,"yield":2330},{"sim":"B11","day":188.7,"yield":0},{"sim":"B11","day":194,"yield":0},
{"sim":"B12","day":0,"yield":0},{"sim":"B12","day":132,"yield":0},{"sim":"B12","day":136,"yield":85},{"sim":"B12","day":140.5,"yield":220},{"sim":"B12","day":145,"yield":670},{"sim":"B12","day":149,"yield":1080},{"sim":"B12","day":152,"yield":1470},{"sim":"B12","day":156,"yield":1850},{"sim":"B12","day":160,"yield":2100},{"sim":"B12","day":165,"yield":2230},{"sim":"B12","day":172,"yield":2265},{"sim":"B12","day":194,"yield":2270},
{"sim":"B13","day":0,"yield":0},{"sim":"B13","day":135.5,"yield":0},{"sim":"B13","day":139.5,"yield":90},{"sim":"B13","day":143.5,"yield":270},{"sim":"B13","day":147,"yield":730},{"sim":"B13","day":150,"yield":1180},{"sim":"B13","day":153,"yield":1560},{"sim":"B13","day":157,"yield":1880},{"sim":"B13","day":161,"yield":2070},{"sim":"B13","day":167,"yield":2170},{"sim":"B13","day":175,"yield":2200},{"sim":"B13","day":194,"yield":2200},
{"sim":"B14","day":0,"yield":0},{"sim":"B14","day":133,"yield":0},{"sim":"B14","day":137,"yield":85},{"sim":"B14","day":141.5,"yield":230},{"sim":"B14","day":146,"yield":700},{"sim":"B14","day":150,"yield":1120},{"sim":"B14","day":153,"yield":1480},{"sim":"B14","day":157,"yield":1800},{"sim":"B14","day":161,"yield":1990},{"sim":"B14","day":167,"yield":2100},{"sim":"B14","day":175,"yield":2130},{"sim":"B14","day":188.6,"yield":2130},{"sim":"B14","day":188.7,"yield":0},{"sim":"B14","day":194,"yield":0},
{"sim":"B15","day":0,"yield":0},{"sim":"B15","day":136,"yield":0},{"sim":"B15","day":140,"yield":95},{"sim":"B15","day":144,"yield":290},{"sim":"B15","day":147.5,"yield":760},{"sim":"B15","day":150.5,"yield":1200},{"sim":"B15","day":153.5,"yield":1550},{"sim":"B15","day":157.5,"yield":1830},{"sim":"B15","day":162,"yield":1980},{"sim":"B15","day":168,"yield":2040},{"sim":"B15","day":194,"yield":2050},
{"sim":"B16","day":0,"yield":0},{"sim":"B16","day":134,"yield":0},{"sim":"B16","day":138,"yield":85},{"sim":"B16","day":142.5,"yield":240},{"sim":"B16","day":147,"yield":720},{"sim":"B16","day":151,"yield":1130},{"sim":"B16","day":154.5,"yield":1500},{"sim":"B16","day":158.5,"yield":1780},{"sim":"B16","day":163,"yield":1920},{"sim":"B16","day":170,"yield":1970},{"sim":"B16","day":194,"yield":1975},
{"sim":"B17","day":0,"yield":0},{"sim":"B17","day":127.5,"yield":0},{"sim":"B17","day":131.5,"yield":90},{"sim":"B17","day":136,"yield":220},{"sim":"B17","day":140.5,"yield":630},{"sim":"B17","day":144.5,"yield":1030},{"sim":"B17","day":147.5,"yield":1440},{"sim":"B17","day":151.5,"yield":2000},{"sim":"B17","day":155.5,"yield":2490},{"sim":"B17","day":159.5,"yield":2800},{"sim":"B17","day":164.5,"yield":2960},{"sim":"B17","day":171.5,"yield":3030},{"sim":"B17","day":194,"yield":3040},
{"sim":"B18","day":0,"yield":0},{"sim":"B18","day":129,"yield":0},{"sim":"B18","day":133,"yield":90},{"sim":"B18","day":137.5,"yield":220},{"sim":"B18","day":142,"yield":630},{"sim":"B18","day":146,"yield":1030},{"sim":"B18","day":149,"yield":1440},{"sim":"B18","day":153,"yield":1980},{"sim":"B18","day":157,"yield":2420},{"sim":"B18","day":161,"yield":2730},{"sim":"B18","day":166,"yield":2890},{"sim":"B18","day":173,"yield":2950},{"sim":"B18","day":194,"yield":2960},
{"sim":"B19","day":0,"yield":0},{"sim":"B19","day":128,"yield":0},{"sim":"B19","day":132,"yield":90},{"sim":"B19","day":136.5,"yield":220},{"sim":"B19","day":141,"yield":630},{"sim":"B19","day":145,"yield":1030},{"sim":"B19","day":148,"yield":1440},{"sim":"B19","day":152,"yield":1960},{"sim":"B19","day":156,"yield":2380},{"sim":"B19","day":160,"yield":2660},{"sim":"B19","day":165,"yield":2820},{"sim":"B19","day":172,"yield":2880},{"sim":"B19","day":188.6,"yield":2890},{"sim":"B19","day":188.7,"yield":0},{"sim":"B19","day":194,"yield":0},
{"sim":"B20","day":0,"yield":0},{"sim":"B20","day":131.5,"yield":0},{"sim":"B20","day":135.5,"yield":90},{"sim":"B20","day":140,"yield":220},{"sim":"B20","day":144.5,"yield":630},{"sim":"B20","day":148.5,"yield":1030},{"sim":"B20","day":151.5,"yield":1440},{"sim":"B20","day":155.5,"yield":1950},{"sim":"B20","day":159.5,"yield":2330},{"sim":"B20","day":163.5,"yield":2570},{"sim":"B20","day":168.5,"yield":2700},{"sim":"B20","day":175.5,"yield":2750},{"sim":"B20","day":194,"yield":2760},
{"sim":"B21","day":0,"yield":0},{"sim":"B21","day":133,"yield":0},{"sim":"B21","day":137,"yield":90},{"sim":"B21","day":141.5,"yield":230},{"sim":"B21","day":146,"yield":650},{"sim":"B21","day":150,"yield":1060},{"sim":"B21","day":153,"yield":1460},{"sim":"B21","day":157,"yield":1900},{"sim":"B21","day":161,"yield":2240},{"sim":"B21","day":165,"yield":2450},{"sim":"B21","day":170,"yield":2560},{"sim":"B21","day":177,"yield":2595},{"sim":"B21","day":194,"yield":2600},
{"sim":"B22","day":0,"yield":0},{"sim":"B22","day":129.5,"yield":0},{"sim":"B22","day":133.5,"yield":90},{"sim":"B22","day":138,"yield":220},{"sim":"B22","day":142.5,"yield":630},{"sim":"B22","day":146.5,"yield":1030},{"sim":"B22","day":149.5,"yield":1430},{"sim":"B22","day":153.5,"yield":1880},{"sim":"B22","day":157.5,"yield":2200},{"sim":"B22","day":162,"yield":2400},{"sim":"B22","day":168,"yield":2490},{"sim":"B22","day":176,"yield":2515},{"sim":"B22","day":188.6,"yield":2520},{"sim":"B22","day":188.7,"yield":0},{"sim":"B22","day":194,"yield":0},
{"sim":"B23","day":0,"yield":0},{"sim":"B23","day":134,"yield":0},{"sim":"B23","day":138,"yield":90},{"sim":"B23","day":142,"yield":250},{"sim":"B23","day":146,"yield":700},{"sim":"B23","day":149.5,"yield":1130},{"sim":"B23","day":152.5,"yield":1520},{"sim":"B23","day":156,"yield":1880},{"sim":"B23","day":160,"yield":2140},{"sim":"B23","day":165,"yield":2290},{"sim":"B23","day":172,"yield":2350},{"sim":"B23","day":194,"yield":2360},
{"sim":"B24","day":0,"yield":0},{"sim":"B24","day":135.5,"yield":0},{"sim":"B24","day":139.5,"yield":95},{"sim":"B24","day":143.5,"yield":280},{"sim":"B24","day":147,"yield":740},{"sim":"B24","day":150,"yield":1160},{"sim":"B24","day":153,"yield":1500},{"sim":"B24","day":157,"yield":1780},{"sim":"B24","day":161.5,"yield":1930},{"sim":"B24","day":168,"yield":1995},{"sim":"B24","day":194,"yield":2010}
],
"sensedLAI": [
{"day":22,"lai":0},{"day":30,"lai":0.03},{"day":40,"lai":0.1},{"day":47.8,"lai":0.22},{"day":59.9,"lai":0.56},{"day":68.7,"lai":0.81},{"day":77.9,"lai":1.18},{"day":84.4,"lai":1.5},{"day":89.6,"lai":1.75},{"day":94,"lai":2.05},{"day":97.4,"lai":2.35},{"day":100,"lai":2.69},{"day":102.6,"lai":3.05},{"day":105.2,"lai":3.28},{"day":107.9,"lai":3.35},{"day":110.5,"lai":3.33},{"day":114.4,"lai":3.15},{"day":118.3,"lai":2.87},{"day":122.2,"lai":2.5},{"day":124.8,"lai":2.28},{"day":131.3,"lai":1.91},{"day":135.3,"lai":1.63},{"day":139.2,"lai":1.31},{"day":145.7,"lai":0.99},{"day":152.2,"lai":0.72},{"day":157.4,"lai":0.54},{"day":165.2,"lai":0.4},{"day":173,"lai":0.31},{"day":178.3,"lai":0.28},{"day":186.1,"lai":0.28},{"day":193.9,"lai":0.26}
],
"maxLAI": [
{"day":0,"lai":0},{"day":20,"lai":0.01},{"day":35,"lai":0.06},{"day":45,"lai":0.13},{"day":53,"lai":0.3},{"day":60,"lai":0.52},{"day":66,"lai":0.7},{"day":72.7,"lai":0.9},{"day":77.9,"lai":1.31},{"day":83.1,"lai":1.63},{"day":87,"lai":1.95},{"day":89.6,"lai":2.18},{"day":96.1,"lai":2.64},{"day":100,"lai":3.01},{"day":102.6,"lai":3.18},{"day":105.2,"lai":3.05},{"day":109.2,"lai":2.92},{"day":114.4,"lai":2.87},{"day":119.6,"lai":2.78},{"day":123.5,"lai":2.69},{"day":131.3,"lai":2.62},{"day":136.5,"lai":2.55},{"day":140.5,"lai":2.39},{"day":144,"lai":2.15},{"day":146,"lai":2.0},{"day":150.9,"lai":1.36},{"day":154.8,"lai":0.65},{"day":157,"lai":0.4},{"day":160,"lai":0.2},{"day":163,"lai":0.06},{"day":165,"lai":0},{"day":194,"lai":0}
],
"maxYield": [
{"day":0,"yield":0},{"day":124.8,"yield":0},{"day":128.7,"yield":100},{"day":133.3,"yield":217},{"day":137.8,"yield":569},{"day":141.7,"yield":920},{"day":144.4,"yield":1250},{"day":148.3,"yield":1850},{"day":152.2,"yield":2445},{"day":156.1,"yield":2836},{"day":160,"yield":2993},{"day":166.5,"yield":3117},{"day":190,"yield":3117},{"day":190.1,"yield":0},{"day":194,"yield":0}
],
"minLAI": [
{"day":0,"lai":0},{"day":15,"lai":0},{"day":22,"lai":0.02},{"day":35,"lai":0.08},{"day":45.3,"lai":0.17},{"day":53.1,"lai":0.35},{"day":59.5,"lai":0.56},{"day":70,"lai":1.04},{"day":75.1,"lai":1.4},{"day":81.8,"lai":1.77},{"day":88.3,"lai":2.18},{"day":92.2,"lai":2.46},{"day":98.5,"lai":2.78},{"day":104,"lai":3.01},{"day":107.9,"lai":2.78},{"day":109.4,"lai":2.55},{"day":114.3,"lai":2.46},{"day":119.6,"lai":2.28},{"day":123.5,"lai":2.09},{"day":128.7,"lai":1.82},{"day":131.3,"lai":1.5},{"day":135.3,"lai":1.09},{"day":139.2,"lai":0.63},{"day":141.8,"lai":0.26},{"day":144.4,"lai":0.05},{"day":148,"lai":0},{"day":194,"lai":0}
],
"minYield": [
{"day":0,"yield":0},{"day":123.5,"yield":0},{"day":132.6,"yield":120},{"day":137.8,"yield":295},{"day":141.7,"yield":490},{"day":143.6,"yield":725},{"day":145,"yield":882},{"day":147,"yield":940},{"day":151,"yield":967},{"day":188.5,"yield":967},{"day":188.6,"yield":0},{"day":194,"yield":0}
]
},
"encoding": {
  "x": {"field": "day", "type": "quantitative",
    "scale": {"domain": [0, 194], "nice": false, "zero": false},
    "axis": {"values": [0, 30, 60, 90, 120, 150, 180],
      "labelExpr": "timeFormat(datetime(2018, 4, 11 + datum.value), '%d/%m/%y')",
      "labelAngle": -45, "labelAlign": "right", "labelBaseline": "alphabetic", "labelPadding": 9,
      "title": "Time", "titleX": 237, "titleY": 62, "titleAlign": "center", "titleBaseline": "alphabetic"}}
},
"layer": [
  {"data": {"name": "lightLAI"},
   "mark": {"type": "line", "interpolate": "monotone", "strokeWidth": 1.3, "opacity": 0.8},
   "encoding": {
     "y": {"field": "lai", "type": "quantitative", "scale": {"domain": [0, 3.82], "nice": false},
       "axis": {"orient": "left", "values": [0, 0.5, 1, 1.5, 2, 2.5, 3, 3.5], "format": ".1f", "labelPadding": 4.5,
         "title": "LAI", "titleAngle": 0, "titleX": -13.5, "titleY": -5, "titleAlign": "center", "titleBaseline": "alphabetic"}},
     "detail": {"field": "sim"},
     "color": {"datum": "Simulated LAI with yield < average", "type": "nominal",
       "scale": {"domain": ["Simulated LAI with yield > average", "Simulated LAI with yield < average", "Predicted yield > average", "Predicted yield < average", "Remotely sensed LAI", "Max yield simulation", "Min yield simulation"],
                 "range": ["#006400", "#32cd32", "#0000cd", "#00bfff", "#000000", "#ff0000", "#ff8c00"]},
       "legend": {"title": null, "orient": "none", "legendX": 8.55, "legendY": 6.5, "symbolType": "M-4,0H4", "symbolSize": 30.25, "symbolStrokeWidth": 2.5, "symbolOpacity": 1, "symbolFillColor": "transparent", "labelFont": "DejaVu Sans", "labelFontSize": 9.8, "labelColor": "black", "labelOffset": 13.35, "rowPadding": 3.55, "padding": 0, "labelLimit": 400}}
   }},
  {"data": {"name": "darkLAI"},
   "mark": {"type": "line", "interpolate": "monotone", "strokeWidth": 1.3, "opacity": 0.8},
   "encoding": {
     "y": {"field": "lai", "type": "quantitative", "scale": {"domain": [0, 3.82], "nice": false}, "axis": null},
     "detail": {"field": "sim"},
     "color": {"datum": "Simulated LAI with yield > average", "type": "nominal"}
   }},
  {"data": {"name": "cyanYield"},
   "mark": {"type": "line", "interpolate": "monotone", "strokeWidth": 1.2, "opacity": 0.75},
   "encoding": {
     "y": {"field": "yield", "type": "quantitative", "scale": {"domain": [0, 3265], "nice": false},
       "axis": {"orient": "right", "values": [0, 500, 1000, 1500, 2000, 2500, 3000], "format": "d", "labelPadding": 3,
         "title": "Yield (kg/ha)", "titleAngle": 0, "titleX": 41, "titleY": -5, "titleAlign": "center", "titleBaseline": "alphabetic"}},
     "detail": {"field": "sim"},
     "color": {"datum": "Predicted yield < average", "type": "nominal"}
   }},
  {"data": {"name": "blueYield"},
   "mark": {"type": "line", "interpolate": "monotone", "strokeWidth": 1.2, "opacity": 0.7},
   "encoding": {
     "y": {"field": "yield", "type": "quantitative", "scale": {"domain": [0, 3265], "nice": false}, "axis": null},
     "detail": {"field": "sim"},
     "color": {"datum": "Predicted yield > average", "type": "nominal"}
   }},
  {"data": {"name": "sensedLAI"},
   "mark": {"type": "line", "interpolate": "monotone", "strokeWidth": 2.2},
   "encoding": {
     "y": {"field": "lai", "type": "quantitative", "scale": {"domain": [0, 3.82], "nice": false}, "axis": null},
     "color": {"datum": "Remotely sensed LAI", "type": "nominal"}
   }},
  {"data": {"name": "maxLAI"},
   "mark": {"type": "line", "interpolate": "monotone", "strokeWidth": 2},
   "encoding": {
     "y": {"field": "lai", "type": "quantitative", "scale": {"domain": [0, 3.82], "nice": false}, "axis": null},
     "color": {"datum": "Max yield simulation", "type": "nominal"}
   }},
  {"data": {"name": "maxYield"},
   "mark": {"type": "line", "interpolate": "monotone", "strokeWidth": 2},
   "encoding": {
     "y": {"field": "yield", "type": "quantitative", "scale": {"domain": [0, 3265], "nice": false}, "axis": null},
     "color": {"datum": "Max yield simulation", "type": "nominal"}
   }},
  {"data": {"name": "minLAI"},
   "mark": {"type": "line", "interpolate": "monotone", "strokeWidth": 2},
   "encoding": {
     "y": {"field": "lai", "type": "quantitative", "scale": {"domain": [0, 3.82], "nice": false}, "axis": null},
     "color": {"datum": "Min yield simulation", "type": "nominal"}
   }},
  {"data": {"name": "minYield"},
   "mark": {"type": "line", "interpolate": "monotone", "strokeWidth": 2},
   "encoding": {
     "y": {"field": "yield", "type": "quantitative", "scale": {"domain": [0, 3265], "nice": false}, "axis": null},
     "color": {"datum": "Min yield simulation", "type": "nominal"}
   }}
],
"resolve": {"scale": {"y": "independent"}}
}
